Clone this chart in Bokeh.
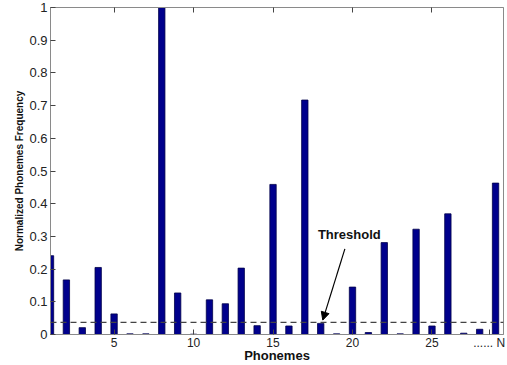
from bokeh.plotting import figure
from bokeh.models import (Range1d, FixedTicker, LinearAxis, Span, Label, Arrow,
                          NormalHead, ColumnDataSource)
from bokeh.embed import file_html
from bokeh.resources import INLINE

# ---- data ----
phonemes = list(range(1, 30))
frequency = [0.241, 0.167, 0.021, 0.205, 0.063, 0.002, 0.002, 1.0, 0.127, 0.001,
             0.106, 0.094, 0.203, 0.027, 0.459, 0.026, 0.717, 0.034, 0.002, 0.145,
             0.006, 0.281, 0.002, 0.322, 0.026, 0.369, 0.004, 0.016, 0.463]
threshold = 0.037
x_ticks = [5, 10, 15, 20, 25, 28.6]
x_tick_labels = ["5", "10", "15", "20", "25", "...... N"]
y_ticks = [0, 0.1, 0.2, 0.3, 0.4, 0.5, 0.6, 0.7, 0.8, 0.9, 1]
y_tick_labels = ["0", "0.1", "0.2", "0.3", "0.4", "0.5", "0.6", "0.7", "0.8", "0.9", "1"]

FONT = "Liberation Sans"
GRAY = "#8a8a8a"

p = figure(width=507, height=365, output_backend="svg", toolbar_location=None,
           x_range=Range1d(1.0, 29.5), y_range=Range1d(0, 1),
           min_border_left=50, min_border_right=4, min_border_top=7, min_border_bottom=0)
p.grid.visible = False
p.outline_line_color = GRAY
p.background_fill_color = "white"

src = ColumnDataSource(dict(x=phonemes, top=frequency))
p.vbar(x="x", top="top", width=0.4, source=src, fill_color="#00008c",
       line_color="#00004a", line_width=0.8)

p.add_layout(Span(location=threshold, dimension="width", line_color="#444444",
                  line_dash="6 4", line_width=1.3))

# axes
for ax in (p.xaxis[0], p.yaxis[0]):
    ax.axis_line_color = GRAY
    ax.major_tick_line_color = "#444444"
    ax.major_tick_in = 5
    ax.major_tick_out = 0
    ax.minor_tick_line_color = None
    ax.major_label_text_font = FONT
    ax.major_label_text_color = "#222222"
    ax.axis_label_text_font = FONT
    ax.axis_label_text_font_style = "bold"
    ax.axis_label_text_color = "#111111"

p.xaxis.ticker = FixedTicker(ticks=x_ticks)
p.xaxis.major_label_overrides = {t: s for t, s in zip(x_ticks, x_tick_labels)}
p.xaxis.major_label_text_font_size = "12px"
p.xaxis.major_label_standoff = 1
p.xaxis.axis_label = "Phonemes"
p.xaxis.axis_label_text_font_size = "13px"
p.xaxis.axis_label_standoff = -5

p.yaxis.ticker = FixedTicker(ticks=y_ticks)
p.yaxis.major_label_overrides = {t: s for t, s in zip(y_ticks, y_tick_labels)}
p.yaxis.major_label_text_font_size = "13px"
p.yaxis.major_label_standoff = 3
p.yaxis.axis_label = "Normalized Phonemes Frequency"
p.yaxis.axis_label_text_font_size = "10px"
p.yaxis.axis_label_standoff = 1

top_ax = LinearAxis(ticker=FixedTicker(ticks=x_ticks[:-1]), major_label_text_color=None,
                    major_label_text_font_size="1px",
                    major_tick_in=5, major_tick_out=0, minor_tick_line_color=None,
                    axis_line_color=GRAY, major_tick_line_color="#444444",
                    major_label_standoff=0)
p.add_layout(top_ax, "above")

# Threshold annotation
p.add_layout(Label(x=19.8, y=0.306, text="Threshold", text_font=FONT, text_font_size="13px",
                   text_font_style="bold", text_color="#111111", text_align="center",
                   text_baseline="middle"))
p.add_layout(Arrow(x_start=19.52, y_start=0.262, x_end=18.13, y_end=0.044,
                   line_color="black", line_width=1.2,
                   end=NormalHead(size=8, fill_color="black", line_color="black")))

open("out.html", "w").write(file_html(p, INLINE))
